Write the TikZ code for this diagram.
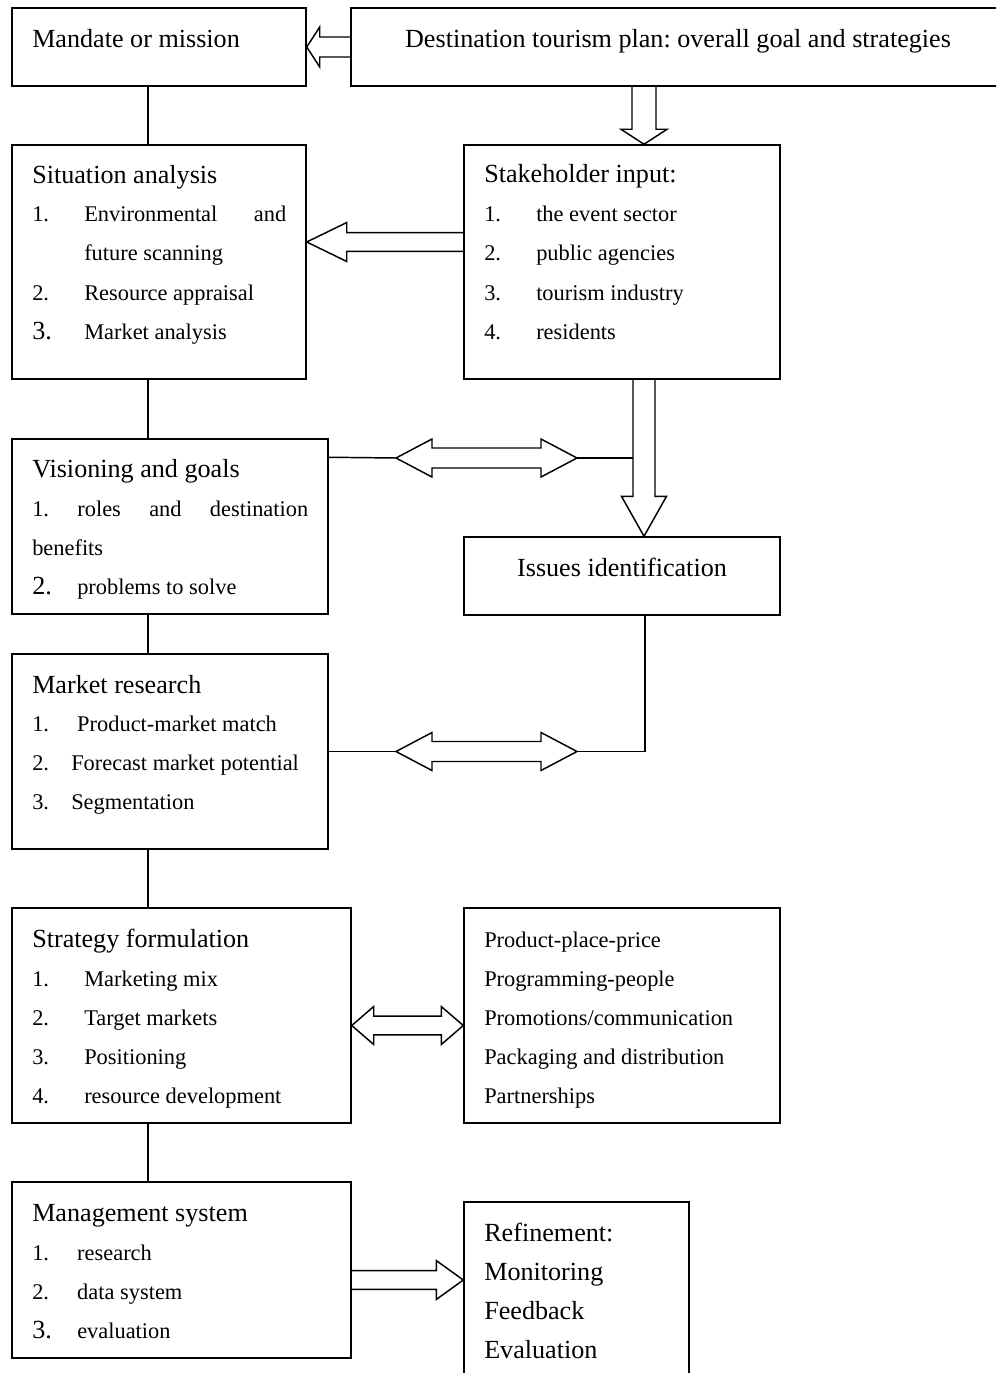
\documentclass[tikz,border=0pt]{standalone}
\usepackage{fontspec}
\setmainfont{Liberation Serif}
\usetikzlibrary{calc,fit}
\frenchspacing

\tikzset{
  box/.style={draw, line width=1.1pt, inner sep=0pt},
  conn/.style={line width=1.1pt, line join=miter},
  head/.style={inner sep=0pt, anchor=base west, font=\fontsize{19.6pt}{22pt}\selectfont},
  item/.style={inner sep=0pt, anchor=base west, font=\fontsize{16.8pt}{20pt}\selectfont},
}

% number column of a list line
\newcommand\nbox[2]{\makebox[#1][l]{#2}}
\newcommand\bignum[1]{{\fontsize{19.6pt}{22pt}\selectfont #1}}

% hollow block arrow: start, tip, head length, shaft half width, head half width
\newcommand\blockarrow[5]{%
  \coordinate (ba-h) at ($(#2)!#3!(#1)$);
  \draw[conn] ($(#1)!#4!90:(#2)$) -- ($(ba-h)!#4!90:(#2)$) -- ($(ba-h)!#5!90:(#2)$)
    -- (#2) -- ($(ba-h)!#5!-90:(#2)$) -- ($(ba-h)!#4!-90:(#2)$) -- ($(#1)!#4!-90:(#2)$);
}
% hollow double-headed block arrow: end, end, head length, shaft half width, head half width
\newcommand\dblarrow[5]{%
  \coordinate (da-a) at ($(#1)!#3!(#2)$);
  \coordinate (da-b) at ($(#2)!#3!(#1)$);
  \draw[conn] (#1) -- ($(da-a)!#5!90:(#2)$) -- ($(da-a)!#4!90:(#2)$)
    -- ($(da-b)!#4!90:(#2)$) -- ($(da-b)!#5!90:(#2)$) -- (#2)
    -- ($(da-b)!#5!-90:(#2)$) -- ($(da-b)!#4!-90:(#2)$)
    -- ($(da-a)!#4!-90:(#2)$) -- ($(da-a)!#5!-90:(#2)$) -- cycle;
}

\begin{document}
\begin{tikzpicture}[x=0.75pt,y=-0.75pt]
\useasboundingbox (0,0) rectangle (996,1373);
\clip (0,0) rectangle (996,1373);

% ---- boxes ----
\node[box, fit={(12,8)(306,86)}]     (mandate) {};
\node[box, fit={(351,8)(1005,86)}]   (dest) {};
\node[box, fit={(12,145)(306,379)}]  (sit) {};
\node[box, fit={(464,145)(780,379)}] (stake) {};
\node[box, fit={(12,439)(328,614)}]  (vis) {};
\node[box, fit={(464,537)(780,615)}] (issues) {};
\node[box, fit={(12,654)(328,849)}]  (market) {};
\node[box, fit={(12,908)(351,1123)}] (strat) {};
\node[box, fit={(464,908)(780,1123)}] (mix) {};
\node[box, fit={(12,1182)(351,1358)}] (mgmt) {};
\node[box, fit={(464,1202)(689,1400)}] (refine) {};

% ---- texts ----
\node[head] (mandate-t) at (32,48) {Mandate or mission};
\node[head, anchor=base] (dest-t) at (678,48) {Destination tourism plan: overall goal and strategies};

\node[head] (sit-t) at (32,184) {Situation analysis};
\node[item] (sit-1) at (32,222) {\hbox to 190.5pt{\nbox{39pt}{1.}Environmental\hfill and}};
\node[item] (sit-1b) at (84,261) {future scanning};
\node[item] (sit-2) at (32,300) {\nbox{39pt}{2.}Resource appraisal};
\node[item] (sit-3) at (32,339) {\nbox{39pt}{\bignum{3.}}Market analysis};

\node[head] (stake-t) at (484,183) {Stakeholder input:};
\node[item] (stake-1) at (484,222) {\nbox{39pt}{1.}the event sector};
\node[item] (stake-2) at (484,261) {\nbox{39pt}{2.}public agencies};
\node[item] (stake-3) at (484,300) {\nbox{39pt}{3.}tourism industry};
\node[item] (stake-4) at (484,339) {\nbox{39pt}{4.}residents};

\node[head] (vis-t) at (32,477) {Visioning and goals};
\node[item] (vis-1) at (32,516) {\hbox to 207pt{1.\hfill roles\hfill and\hfill destination}};
\node[item] (vis-1b) at (32,555) {benefits};
\node[item] (vis-2) at (32,594) {\nbox{33.75pt}{\bignum{2.}}problems to solve};

\node[head, anchor=base] (issues-t) at (622,576) {Issues identification};

\node[head] (market-t) at (32,693) {Market research};
\node[item] (market-1) at (32,731) {\nbox{33.75pt}{1.}Product-market match};
\node[item] (market-2) at (32,770) {\nbox{29.25pt}{2.}Forecast market potential};
\node[item] (market-3) at (32,809) {\nbox{29.25pt}{3.}Segmentation};

\node[head] (strat-t) at (32,947) {Strategy formulation};
\node[item] (strat-1) at (32,986)  {\nbox{39pt}{1.}Marketing mix};
\node[item] (strat-2) at (32,1025) {\nbox{39pt}{2.}Target markets};
\node[item] (strat-3) at (32,1064) {\nbox{39pt}{3.}Positioning};
\node[item] (strat-4) at (32,1103) {\nbox{39pt}{4.}resource development};

\node[item] (mix-1) at (484,947)  {Product-place-price};
\node[item] (mix-2) at (484,986)  {Programming-people};
\node[item] (mix-3) at (484,1025) {Promotions/communication};
\node[item] (mix-4) at (484,1064) {Packaging and distribution};
\node[item] (mix-5) at (484,1103) {Partnerships};

\node[head] (mgmt-t) at (32,1221) {Management system};
\node[item] (mgmt-1) at (32,1260) {\nbox{33.75pt}{1.}research};
\node[item] (mgmt-2) at (32,1299) {\nbox{33.75pt}{2.}data system};
\node[item] (mgmt-3) at (32,1338) {\nbox{33.75pt}{\bignum{3.}}evaluation};

\node[head] (refine-1) at (484,1241) {Refinement:};
\node[head] (refine-2) at (484,1280) {Monitoring};
\node[head] (refine-3) at (484,1319) {Feedback};
\node[head] (refine-4) at (484,1358) {Evaluation};

% ---- spine of the left column ----
\coordinate (spine) at (148,0);
\draw[conn] (mandate.south -| spine) -- (sit.north -| spine);
\draw[conn] (sit.south -| spine) -- (vis.north -| spine);
\draw[conn] (vis.south -| spine) -- (market.north -| spine);
\draw[conn] (market.south -| spine) -- (strat.north -| spine);
\draw[conn] (strat.south -| spine) -- (mgmt.north -| spine);

% ---- block arrows ----
\blockarrow{dest.west}{mandate.east}{9.75pt}{7.5pt}{15pt}

\coordinate (col) at (644,0);
\coordinate (d-s) at (dest.south -| col);
\coordinate (d-t) at (stake.north -| col);
\blockarrow{d-s}{d-t}{11.25pt}{9pt}{17.25pt}

\coordinate (s-s) at ($(stake.west)+(0,-20)$);
\coordinate (s-t) at (s-s -| sit.east);
\blockarrow{s-s}{s-t}{30pt}{7.1pt}{14.6pt}

\coordinate (i-s) at (stake.south -| col);
\coordinate (i-t) at (issues.north -| col);
\blockarrow{i-s}{i-t}{30pt}{8.25pt}{16.9pt}

% visioning <-> stakeholder arrow shaft
\coordinate (v0) at ($(vis.north east)+(0,19)$);
\coordinate (va) at (396,458);
\coordinate (vb) at (577,458);
\coordinate (vc) at (633,458);
\draw[conn] (v0) -- (va);
\draw[conn] (vb) -- (vc);
\dblarrow{va}{vb}{27pt}{7.5pt}{14.25pt}

% issues <-> market research
\coordinate (m0) at (market.east);
\coordinate (ma) at (m0 -| va);
\coordinate (mb) at (m0 -| vb);
\coordinate (mc) at (645,0);
\draw[conn] (m0) -- (ma);
\draw[conn] (mb) -- (mb -| mc) -- (issues.south -| mc);
\dblarrow{ma}{mb}{27pt}{7.5pt}{14.25pt}

% strategy <-> marketing mix
\coordinate (st-a) at ($(strat.east)+(0,10)$);
\coordinate (st-b) at (st-a -| mix.west);
\dblarrow{st-a}{st-b}{16.5pt}{7.1pt}{14.25pt}

% management -> refinement
\coordinate (mg-a) at ($(mgmt.east)+(0,10)$);
\coordinate (mg-b) at (mg-a -| refine.west);
\blockarrow{mg-a}{mg-b}{20.25pt}{7.1pt}{14.6pt}

\end{tikzpicture}
\end{document}
